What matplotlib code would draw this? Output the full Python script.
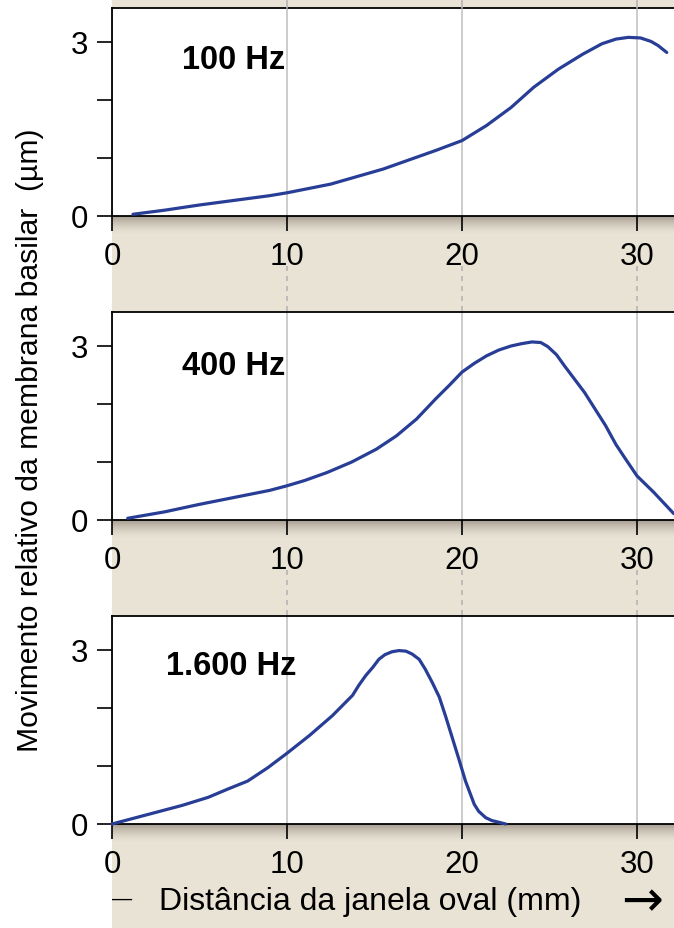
import numpy as np
import matplotlib
matplotlib.use("Agg")
import matplotlib.pyplot as plt
from matplotlib.patches import Rectangle
from matplotlib.lines import Line2D
from matplotlib.transforms import blended_transform_factory

plt.rcParams['font.family'] = ['Liberation Sans', 'DejaVu Sans']

# ---- data -------------------------------------------------------------
freq_labels = ['100 Hz', '400 Hz', '1.600 Hz']

x_100 = [1.2, 3, 5, 7, 9, 10, 11, 12.5, 14, 15.5, 17, 18.5, 20, 21.4, 22.8,
         24.1, 25.5, 26.9, 28.0, 28.8, 29.5, 30.2, 30.8, 31.2, 31.7]
y_100 = [0.03, 0.10, 0.19, 0.27, 0.35, 0.40, 0.46, 0.55, 0.68, 0.81, 0.97,
         1.13, 1.30, 1.56, 1.87, 2.22, 2.53, 2.79, 2.97, 3.05, 3.08, 3.07,
         3.01, 2.94, 2.82]

x_400 = [0.9, 3, 5, 7, 9, 10, 11, 12.3, 13.7, 15.1, 16.25, 17.4, 18.5,
         19.3, 20.0, 20.7, 21.4, 22.1, 22.8, 23.4, 24.0, 24.5, 24.9, 25.4,
         25.85, 27.0, 28.2, 28.8, 29.35, 30.0, 30.95, 32.1]
y_400 = [0.03, 0.14, 0.27, 0.39, 0.51, 0.59, 0.68, 0.82, 1.00, 1.22, 1.45,
         1.74, 2.09, 2.33, 2.55, 2.70, 2.83, 2.93, 3.00, 3.04, 3.07, 3.06,
         2.99, 2.85, 2.66, 2.20, 1.63, 1.30, 1.05, 0.76, 0.48, 0.11]

x_1600 = [0, 1, 2.5, 4, 5.5, 6.6, 7.75, 8.9, 10, 11.3, 12.6, 13.75, 14.1,
          14.5, 14.9, 15.25, 15.6, 16.0, 16.4, 16.8, 17.15, 17.55, 17.9,
          18.3, 18.7, 19.05, 19.4, 19.8, 20.2, 20.7, 20.95, 21.35, 21.7,
          22.5]
y_1600 = [0.0, 0.08, 0.20, 0.32, 0.46, 0.60, 0.74, 0.97, 1.22, 1.53, 1.87,
          2.22, 2.39, 2.56, 2.70, 2.84, 2.92, 2.97, 2.99, 2.98, 2.93, 2.84,
          2.67, 2.44, 2.19, 1.87, 1.53, 1.14, 0.74, 0.34, 0.22, 0.11, 0.06,
          0.0]

series = [(x_100, y_100), (x_400, y_400), (x_1600, y_1600)]

x_ticks = [0, 10, 20, 30]
y_ticks = [0, 1, 2, 3]
y_ticklabels = ['0', '', '', '3']
label_pos = [(4.0, 2.70), (4.0, 2.66), (3.1, 2.73)]

# ---- style ------------------------------------------------------------
W, H = 674, 929
BEIGE = '#e9e3d5'
SHADE = (0.40, 0.37, 0.31)
CURVE = '#283e96'
GRID = '#c4c4c4'
FS_TICK = 22.5
FS_BOLD = 23.5

fig = plt.figure(figsize=(W / 100, H / 100), dpi=100)

left_px = 112
px_per_mm = 17.5
xmax = (W - left_px) / px_per_mm
px_per_unit = 58.0
panels_px = [(9, 217), (312.7, 521), (616.7, 825)]

# beige backdrop behind the panels
fig.patches.append(Rectangle((left_px / W, 0), 1 - left_px / W, 1,
                             transform=fig.transFigure, facecolor=BEIGE,
                             edgecolor='none', zorder=-3))

axes = []
for (top, bot), (xs, ys), lab, (lx, ly) in zip(panels_px, series,
                                               freq_labels, label_pos):
    # soft shadow under the bottom edge, built from thin bands
    sh_px = 18
    for k in range(sh_px):
        a = 0.5 * (1 - k / sh_px) ** 1.6
        fig.patches.append(Rectangle((left_px / W, 1 - (bot + k + 1) / H),
                                     1 - left_px / W, 1 / H,
                                     transform=fig.transFigure,
                                     facecolor=SHADE, alpha=a,
                                     edgecolor='none', zorder=-2))

    ax = fig.add_axes([left_px / W, 1 - bot / H, 1 - left_px / W,
                       (bot - top) / H])
    ax.set_facecolor('white')
    ax.set_xlim(0, xmax)
    ax.set_ylim(0, (bot - top) / px_per_unit)
    ax.plot(xs, ys, color=CURVE, lw=2.3, solid_joinstyle='round',
            solid_capstyle='round', zorder=3, clip_on=False)
    ax.set_xticks(x_ticks)
    ax.set_yticks(y_ticks)
    ax.set_yticklabels(y_ticklabels)
    ax.tick_params(direction='out', length=11, width=1.2,
                   labelsize=FS_TICK, colors='black')
    ax.tick_params(axis='x', pad=7)
    ax.tick_params(axis='y', pad=6)
    ax.grid(axis='x', color=GRID, lw=1.2)
    ax.set_axisbelow(True)
    for s in ('top', 'left', 'bottom'):
        ax.spines[s].set_linewidth(1.3)
        ax.spines[s].set_color('black')
    ax.spines['right'].set_visible(False)
    ax.text(lx, ly, lab, fontsize=FS_BOLD, fontweight='bold', ha='left',
            va='center')
    axes.append(ax)

# dashed guides in the gaps between panels
gaps = [(0, 9), (267, 312.7), (571, 616.7)]
for ax_ref, (g0, g1) in zip(axes, gaps):
    tr = blended_transform_factory(ax_ref.transData, fig.transFigure)
    for xv in x_ticks[1:]:
        ls = '-' if g0 == 0 else (0, (3, 3))
        fig.add_artist(Line2D([xv, xv], [1 - g0 / H, 1 - g1 / H],
                              transform=tr, color='#b5b5b5', lw=1.2,
                              linestyle=ls, zorder=1))

# axis titles
fig.text(30 / W, 1 - 440 / H,
         'Movimento relativo da membrana basilar  (µm)',
         rotation=90, ha='center', va='center', fontsize=21.7)
base_y = 1 - 910 / H
fig.text(112 / W, 1 - 899 / H, '—', fontsize=14.5, ha='left',
         va='center')
fig.text(159 / W, base_y, 'Distância da janela oval (mm)', fontsize=23,
         ha='left', va='baseline')
fig.text(621 / W, 1 - 902 / H, '→', fontsize=36, ha='left', va='center',
         family=['DejaVu Sans'])

fig.savefig('out.png', dpi=100)
